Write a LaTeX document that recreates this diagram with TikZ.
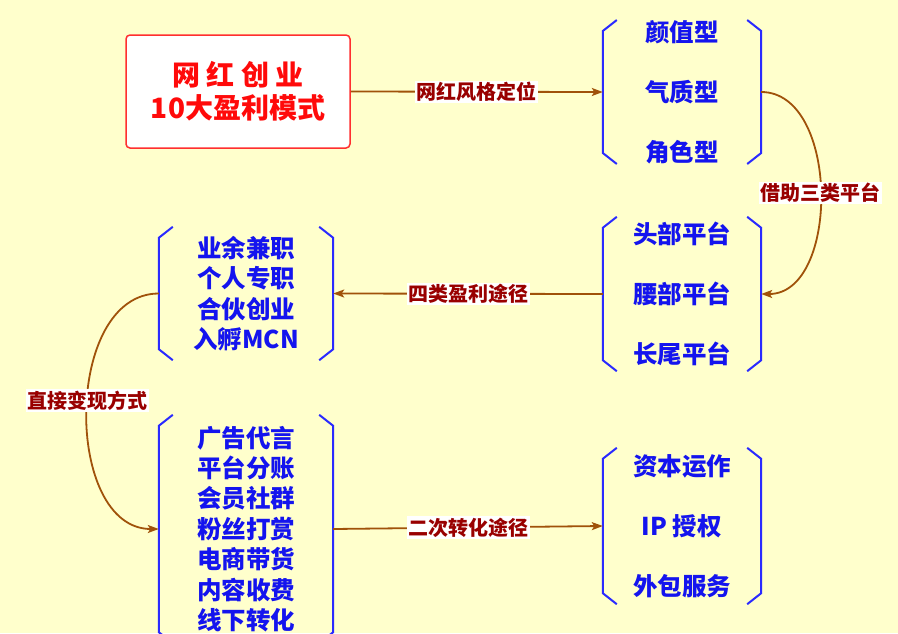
\documentclass[tikz,border=0pt]{standalone}
\usepackage{fontspec}
\setmainfont{Noto Sans CJK SC}
\usetikzlibrary{arrows.meta}
\definecolor{bgyellow}{HTML}{FFFFCC}
\definecolor{itemblue}{HTML}{1414EE}
\definecolor{brkblue}{HTML}{2A2AFF}
\definecolor{linkbrown}{HTML}{A0520A}
\definecolor{labelred}{HTML}{990000}
\definecolor{titlered}{HTML}{FF0A0A}
\newcommand{\grpbrackets}[1]{%
  \draw[brk] ([xshift=14pt]#1.north west) -- ([yshift=-11pt]#1.north west)
    -- ([yshift=11pt]#1.south west) -- ([xshift=14pt]#1.south west);
  \draw[brk] ([xshift=-14pt]#1.north east) -- ([yshift=-11pt]#1.north east)
    -- ([yshift=11pt]#1.south east) -- ([xshift=-14pt]#1.south east);}
\begin{document}
\begin{tikzpicture}[x=1pt,y=-1pt,
  grp/.style={inner sep=0pt,align=center,text=itemblue,
    font=\bfseries\fontsize{24.5}{60}\selectfont},
  brk/.style={brkblue,line width=2pt},
  link/.style={linkbrown,line width=1.8pt,-{Stealth[length=11pt,width=8pt,inset=2.5pt]}},
  tag/.style={fill=white,text=labelred,inner sep=1.5pt,
    font=\bfseries\fontsize{20}{22}\selectfont}]
\useasboundingbox (0,0) rectangle (898,633);
\fill[bgyellow] (0,0) rectangle (898,633);
\node[draw=titlered!85!white,line width=1.5pt,rounded corners=4pt,fill=white,
  text=titlered,align=center,minimum width=224pt,minimum height=113pt,
  font=\bfseries\fontsize{28}{33}\selectfont] (title) at (238,91.5) {网 红 创 业\\10大盈利模式};
\node[grp,minimum width=158pt,minimum height=140pt] (style) at (682,92) {颜值型\\气质型\\角色型};
\node[grp,minimum width=158pt,minimum height=154pt] (platform) at (682,294) {头部平台\\腰部平台\\长尾平台};
\node[grp,minimum width=174pt,minimum height=133pt,font=\bfseries\fontsize{24.5}{30.5}\selectfont] (career) at (246,293.5) {业余兼职\\个人专职\\合伙创业\\入孵MCN};
\node[grp,minimum width=174pt,minimum height=228pt,font=\bfseries\fontsize{24.5}{30.4}\selectfont] (direct) at (246,529) {广告代言\\平台分账\\会员社群\\粉丝打赏\\电商带货\\内容收费\\线下转化};
\node[grp,minimum width=158pt,minimum height=156pt] (second) at (682,526) {资本运作\\IP 授权\\外包服务};
\grpbrackets{style}
\grpbrackets{platform}
\grpbrackets{career}
\grpbrackets{direct}
\grpbrackets{second}
\draw[link] (title.east) -- (style.west) node[tag,midway] {网红风格定位};
\draw[link] (style.east) to[out=0,in=0] node[tag] {借助三类平台} (platform.east);
\draw[link] (platform.west) -- (career.east) node[tag,midway] {四类盈利途径};
\draw[link] (career.west) to[out=180,in=180,looseness=1.04] node[tag,pos=0.47] {直接变现方式} (direct.west);
\draw[link] (direct.east) -- (second.west) node[tag,midway] {二次转化途径};
\end{tikzpicture}
\end{document}
